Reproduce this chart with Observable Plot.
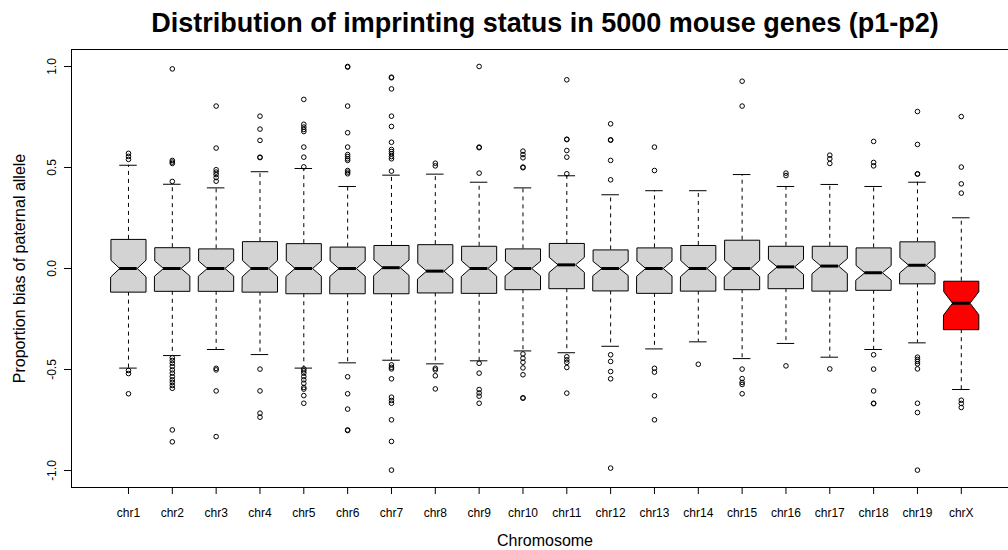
<!DOCTYPE html>
<html>
<head>
<meta charset="utf-8">
<script src="https://cdn.jsdelivr.net/npm/d3@7"></script>
<script src="https://cdn.jsdelivr.net/npm/@observablehq/plot@0.6"></script>
<style>
  html, body { margin: 0; padding: 0; background: #fff; overflow: hidden; }
  #chart svg { display: block; }
</style>
</head>
<body>
<div id="chart"></div>
<script>
// ---- Data ----
const chromosomes = ["chr1","chr2","chr3","chr4","chr5","chr6","chr7","chr8","chr9","chr10",
  "chr11","chr12","chr13","chr14","chr15","chr16","chr17","chr18","chr19","chrX"];

const upperHinge = [0.144, 0.103, 0.097, 0.133, 0.123, 0.106, 0.114, 0.118, 0.110, 0.097,
  0.124, 0.092, 0.102, 0.114, 0.140, 0.110, 0.110, 0.102, 0.132, -0.063];

const medians = [0, 0, 0, 0, 0, 0, 0.004, -0.013, 0, 0,
  0.018, 0, 0, 0, 0, 0.008, 0.012, -0.021, 0.016, -0.172];

const lowerHinge = [-0.117, -0.113, -0.113, -0.117, -0.125, -0.125, -0.125, -0.121, -0.123, -0.105,
  -0.100, -0.111, -0.123, -0.112, -0.105, -0.100, -0.112, -0.108, -0.076, -0.303];

const whiskerHigh = [0.511, 0.417, 0.399, 0.479, 0.495, 0.406, 0.462, 0.467, 0.427, 0.399,
  0.459, 0.365, 0.385, 0.385, 0.465, 0.406, 0.416, 0.406, 0.427, 0.251];

const whiskerLow = [-0.493, -0.431, -0.401, -0.426, -0.493, -0.467, -0.454, -0.472, -0.457, -0.408,
  -0.417, -0.385, -0.398, -0.363, -0.446, -0.371, -0.439, -0.401, -0.368, -0.599];

// half-height of the notch (median confidence interval)
const notchHalfHeight = [0.041, 0.037, 0.037, 0.040, 0.038, 0.038, 0.038, 0.038, 0.038, 0.036,
  0.037, 0.035, 0.037, 0.039, 0.040, 0.037, 0.037, 0.036, 0.037, 0.057];

const outliers = [
  [0.57, 0.555, 0.54, -0.505, -0.52, -0.62],
  [0.988, 0.535, 0.527, 0.52, 0.431, -0.442, -0.455, -0.469, -0.485, -0.502, -0.518, -0.535, -0.551, -0.564, -0.579, -0.593, -0.799, -0.858],
  [0.804, 0.596, 0.489, 0.477, 0.465, 0.45, 0.432, -0.494, -0.502, -0.606, -0.832],
  [0.754, 0.69, 0.634, 0.551, 0.549, -0.498, -0.606, -0.716, -0.736],
  [0.837, 0.714, 0.7, 0.688, 0.678, 0.601, 0.551, 0.503, -0.497, -0.507, -0.518, -0.535, -0.551, -0.568, -0.589, -0.597, -0.629, -0.667],
  [1.0, 0.997, 0.804, 0.672, 0.601, 0.564, 0.554, 0.543, 0.535, 0.485, 0.477, 0.469, -0.536, -0.62, -0.696, -0.799, -0.802],
  [0.947, 0.944, 0.889, 0.754, 0.703, 0.625, 0.589, 0.579, 0.568, 0.554, 0.543, 0.482, -0.477, -0.489, -0.497, -0.546, -0.637, -0.653, -0.667, -0.749, -0.856, -0.998],
  [0.521, 0.508, -0.494, -0.502, -0.531, -0.596],
  [1.0, 0.601, 0.598, 0.472, -0.469, -0.518, -0.599, -0.616, -0.632, -0.667],
  [0.581, 0.564, 0.548, 0.502, 0.499, -0.423, -0.444, -0.464, -0.492, -0.526, -0.64, -0.642],
  [0.934, 0.64, 0.638, 0.584, 0.551, 0.469, -0.437, -0.452, -0.465, -0.49, -0.617],
  [0.716, 0.637, 0.635, 0.535, 0.439, -0.427, -0.46, -0.51, -0.546, -0.988],
  [0.601, 0.485, -0.494, -0.513, -0.63, -0.749],
  [-0.474],
  [0.927, 0.804, -0.498, -0.545, -0.564, -0.574, -0.62],
  [0.472, 0.46, -0.482],
  [0.561, 0.543, 0.52, -0.497],
  [0.629, 0.525, 0.508, -0.427, -0.498, -0.606, -0.667, -0.669],
  [0.777, 0.614, 0.469, 0.467, -0.439, -0.45, -0.46, -0.472, -0.497, -0.667, -0.713, -0.998],
  [0.752, 0.502, 0.419, 0.373, -0.652, -0.668, -0.688]
];

const yTicks = [-1, -0.5, 0, 0.5, 1];
const highlighted = "chrX";

// ---- Layout / style ----
const xDomain = [-0.3, 21.077];
const yDomain = [-1.084, 1.084];
const boxHalf = 0.4, notchInner = 0.2, stapleHalf = 0.2;
const FONT = "'Liberation Sans', Arial, Helvetica, sans-serif";

const stats = chromosomes.map((c, i) => ({
  c, x: i + 1,
  q1: lowerHinge[i], med: medians[i], q3: upperHinge[i],
  lo: whiskerLow[i], hi: whiskerHigh[i],
  nlo: medians[i] - notchHalfHeight[i], nhi: medians[i] + notchHalfHeight[i]
}));

const boxPoints = stats.flatMap(s => {
  const pts = [
    [-boxHalf, s.q1], [boxHalf, s.q1], [boxHalf, s.nlo], [notchInner, s.med], [boxHalf, s.nhi],
    [boxHalf, s.q3], [-boxHalf, s.q3], [-boxHalf, s.nhi], [-notchInner, s.med], [-boxHalf, s.nlo]
  ];
  return pts.map(([dx, y]) => ({c: s.c, x: s.x + dx, y}));
});

const outlierPoints = outliers.flatMap((vals, i) => vals.map(v => ({x: i + 1, y: v})));

const chart = Plot.plot({
  width: 1008,
  height: 550,
  marginLeft: 71,
  marginRight: 0,
  marginTop: 49,
  marginBottom: 63,
  style: {fontFamily: FONT, fontSize: "12px", background: "white", color: "black"},
  x: {domain: xDomain, label: null},
  y: {domain: yDomain, label: null},
  marks: [
    // whiskers
    Plot.ruleX(stats, {x: "x", y1: "q3", y2: "hi", stroke: "black", strokeDasharray: "4,4"}),
    Plot.ruleX(stats, {x: "x", y1: "q1", y2: "lo", stroke: "black", strokeDasharray: "4,4"}),
    // staples
    Plot.ruleY(stats, {y: "hi", x1: d => d.x - stapleHalf, x2: d => d.x + stapleHalf, stroke: "black"}),
    Plot.ruleY(stats, {y: "lo", x1: d => d.x - stapleHalf, x2: d => d.x + stapleHalf, stroke: "black"}),
    // notched boxes
    Plot.line(boxPoints.filter(d => d.c !== highlighted), {x: "x", y: "y", z: "c", curve: "linear-closed",
      fill: "#D3D3D3", stroke: "black", strokeWidth: 1}),
    Plot.line(boxPoints.filter(d => d.c === highlighted), {x: "x", y: "y", z: "c", curve: "linear-closed",
      fill: "#FF0000", stroke: "black", strokeWidth: 1}),
    // medians
    Plot.ruleY(stats, {y: "med", x1: d => d.x - notchInner, x2: d => d.x + notchInner, stroke: "black", strokeWidth: 3}),
    // outliers
    Plot.dot(outlierPoints, {x: "x", y: "y", r: 2.3, stroke: "black", fill: "none", strokeWidth: 1}),
    // frame (top, bottom, left; right side lies beyond the picture)
    Plot.ruleY([yDomain[0], yDomain[1]], {stroke: "black"}),
    Plot.ruleX([xDomain[0]], {stroke: "black"}),
    // axes
    Plot.axisX({ticks: d3.range(1, chromosomes.length + 1), tickFormat: i => chromosomes[i - 1],
      tickSize: 7, tickPadding: 14, fontSize: 12, label: null}),
    Plot.axisY({ticks: yTicks, tickFormat: v => v.toFixed(1), tickSize: 7, tickRotate: -90,
      tickPadding: 9, fontSize: 12, label: null}),
    // titles
    Plot.text(["Distribution of imprinting status in 5000 mouse genes (p1-p2)"], {
      frameAnchor: "top", dx: 5, dy: -18, lineAnchor: "bottom", fontSize: 27, fontWeight: "bold"}),
    Plot.text(["Chromosome"], {frameAnchor: "bottom", dx: 5, dy: 58, lineAnchor: "bottom", fontSize: 16}),
    Plot.text(["Proportion bias of paternal allele"], {frameAnchor: "left", dx: -47, rotate: -90,
      textAnchor: "middle", lineAnchor: "bottom", fontSize: 16})
  ]
});

document.getElementById("chart").appendChild(chart);
</script>
</body>
</html>
